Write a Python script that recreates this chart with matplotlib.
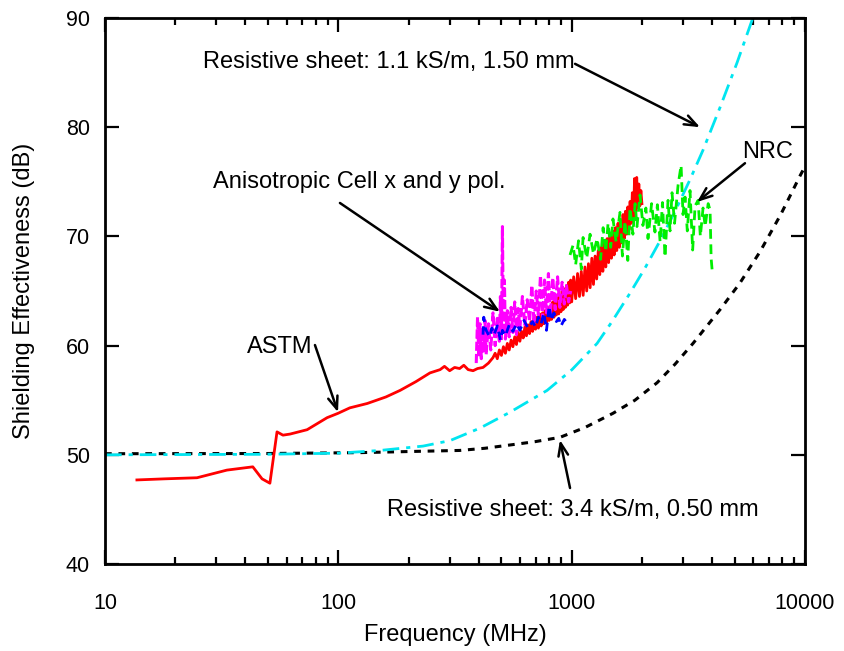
import numpy as np
import matplotlib
matplotlib.use("Agg")
import matplotlib.pyplot as plt
from matplotlib.ticker import FixedLocator, LogLocator, NullFormatter, FuncFormatter

plt.rcParams["font.family"] = ["Liberation Sans", "DejaVu Sans"]

# ASTM measurement (MHz, dB)
astm_freq = [13.7, 18, 24.8, 33.3, 43.0, 47.1, 50.9, 54.6, 57.9, 62.1, 73.5, 89.5,
             99.7, 112, 133, 160, 184, 215, 247, 273, 285, 300, 315, 331, 345,
             360, 378, 395, 417, 440, 460,
             470, 480, 490, 500, 510, 520, 530, 540, 550, 560, 570, 580, 590,
             600, 610, 620, 630, 640, 650, 660, 670, 680, 690, 700, 710, 720,
             730, 740, 750, 760, 770, 780, 790, 800, 810, 820, 830, 840, 850,
             860, 870, 880, 890, 900, 910, 920, 930, 940, 950, 960, 970, 980,
             990, 1000,
             1020, 1040, 1060, 1080, 1100, 1120, 1140, 1160, 1180, 1200, 1220,
             1240, 1260, 1280, 1300, 1320, 1340, 1360, 1380, 1400, 1420, 1440,
             1460, 1480, 1500, 1520, 1540, 1560, 1580, 1600, 1620, 1640, 1660,
             1680, 1700, 1720, 1740, 1760, 1780, 1800, 1820, 1840, 1860, 1880,
             1900, 1920, 1940, 1960, 1980, 2000]
astm_se = [47.7, 47.8, 47.9, 48.6, 48.9, 47.8, 47.4, 52.1, 51.8, 51.9, 52.3, 53.4,
           53.8, 54.3, 54.7, 55.3, 55.9, 56.7, 57.5, 57.8, 58.1, 57.7, 58.0, 57.9,
           58.2, 57.8, 57.7, 57.9, 58.0, 58.4, 58.9,
           59.3, 58.8, 59.6, 59.1, 59.9, 59.3, 60.2, 59.6, 60.5, 59.9, 60.8,
           60.1, 61.2, 60.4, 61.3, 60.7, 61.7, 60.9, 61.9, 61.1, 62.2, 61.3,
           62.5, 61.5, 62.6, 61.6, 62.9, 61.8, 63.0, 62.0, 63.2, 62.1, 63.5,
           62.3, 63.6, 62.4, 64.0, 62.6, 64.1, 62.8, 64.4, 62.9, 64.6, 63.1,
           65.0, 63.3, 65.2, 63.5, 65.5, 63.7, 65.8, 63.9, 66.0, 64.0,
           66.3, 64.3, 66.6, 64.5, 66.8, 64.6, 67.2, 65.0, 67.5, 65.3, 68.0,
           65.6, 68.2, 66.1, 68.7, 66.5, 69.0, 66.8, 69.5, 67.2, 69.8, 67.6,
           70.3, 68.0, 70.5, 68.3, 70.8, 68.7, 71.2, 69.0, 71.5, 69.4, 72.0,
           69.8, 72.3, 70.2, 72.7, 70.6, 73.2, 71.2, 74.0, 71.6, 75.3, 72.0,
           75.4, 72.6, 74.8, 72.8, 74.2, 73.0]

# NRC measurement
nrc_freq = [984, 1014, 1040, 1070, 1100, 1119, 1160, 1199, 1240, 1285, 1330, 1364,
            1400, 1432, 1470, 1503, 1550, 1611, 1650, 1693, 1740, 1778, 1830,
            1870, 1905, 1963, 2020, 2080, 2124, 2200, 2275, 2330, 2393, 2450,
            2512, 2588, 2640, 2692, 2760, 2858, 2944, 3000, 3062, 3130, 3215,
            3300, 3380, 3483, 3560, 3656, 3733, 3846, 3919, 3960, 4000]
nrc_se = [68.3, 69.2, 67.4, 69.6, 67.0, 69.9, 68.0, 70.2, 68.4, 69.8, 67.9, 70.8,
          68.6, 71.2, 69.0, 71.6, 69.5, 72.2, 68.2, 71.4, 67.8, 72.6, 70.2, 73.0,
          70.9, 73.8, 71.0, 72.6, 69.8, 73.0, 70.4, 72.9, 69.5, 73.1, 68.1,
          73.3, 70.5, 74.0, 71.2, 74.7, 76.5, 72.0, 73.6, 70.5, 74.2, 68.75,
          72.8, 73.3, 70.0, 72.6, 70.9, 73.0, 72.4, 68.0, 66.9]

# anisotropic cell, x polarisation
cellx_freq = [417, 420, 428, 435, 445, 455, 465, 480, 495, 505, 520, 540, 560, 580,
              600, 625, 650, 680, 700, 720, 740, 760, 780, 800, 820, 840, 860,
              880, 900, 930, 960]
cellx_se = [61.0, 62.6, 61.5, 61.2, 60.8, 61.6, 61.0, 61.8, 60.5, 61.4, 60.9, 61.9,
            61.3, 62.0, 61.4, 62.3, 61.6, 62.2, 61.7, 62.6, 62.0, 63.0, 61.4,
            63.6, 62.3, 63.0, 62.2, 62.5, 61.8, 62.4, 62.0]

# anisotropic cell, y polarisation
celly_freq = [390, 395, 400, 405, 410, 415, 420, 425, 430, 440, 450, 460, 470, 480,
              490, 495, 500, 505, 510, 515, 520, 530, 540, 550, 560, 570, 580,
              590, 600, 615, 630, 645, 660, 675, 690, 705, 720, 735, 750, 765,
              780, 795, 810, 830, 850, 870, 890, 910, 930, 950, 970, 990]
celly_se = [58.4, 62.6, 59.0, 62.0, 58.8, 61.5, 59.5, 62.3, 59.2, 62.0, 59.6, 63.0,
            60.0, 62.5, 60.4, 64.5, 60.5, 70.9, 61.0, 66.0, 60.6, 63.2, 60.8,
            63.5, 61.2, 64.0, 61.0, 63.4, 61.6, 64.5, 61.9, 64.2, 62.2, 65.5,
            62.0, 65.0, 62.8, 66.4, 62.5, 66.0, 63.0, 66.6, 62.8, 66.2, 63.3,
            66.3, 63.5, 65.8, 63.8, 65.5, 64.0, 65.0]

# resistive sheet, 1.1 kS/m, 1.50 mm
sheet1_freq = [10, 50, 100, 151, 231, 301, 405, 544, 785, 1003, 1285, 1489, 1778,
               2062, 2393, 2774, 3215, 3655, 4322, 5113, 5930, 6416]
sheet1_se = [50.0, 50.05, 50.15, 50.4, 50.8, 51.3, 52.45, 53.9, 55.9, 57.8, 60.2,
             62.2, 64.8, 67.1, 69.6, 72.3, 75.2, 77.9, 81.8, 85.9, 89.8, 92.0]

# resistive sheet, 3.4 kS/m, 0.50 mm
sheet2_freq = [10, 50, 124, 200, 331, 425, 544, 695, 891, 1140, 1503, 1867, 2323,
               2774, 3311, 4325, 5250, 6416, 7870, 9550, 10000]
sheet2_se = [50.1, 50.12, 50.2, 50.3, 50.4, 50.6, 50.9, 51.2, 51.6, 52.5, 53.8,
             55.0, 56.6, 58.3, 60.2, 63.3, 65.7, 68.6, 72.0, 75.6, 76.4]

fig = plt.figure(figsize=(8.44, 6.51), dpi=100)
ax = fig.add_axes([0.1244, 0.1336, 0.8294, 0.8388])

ax.plot(sheet2_freq, sheet2_se, color="black", lw=2.2, ls=(0, (2.2, 2.2)))
ax.plot(sheet1_freq, sheet1_se, color="#00e5f0", lw=2.0, ls=(0, (6, 2.5, 1.5, 2.5)))
ax.plot(astm_freq, astm_se, color="red", lw=2.0)
ax.plot(nrc_freq, nrc_se, color="#00ee00", lw=2.0, ls=(0, (3.5, 2.0)))
ax.plot(celly_freq, celly_se, color="#ff00ff", lw=2.2, ls=(0, (3, 1)))
ax.plot(cellx_freq, cellx_se, color="#0000ff", lw=2.0, ls=(0, (3, 2)))

ax.set_xscale("log")
ax.set_xlim(10, 10000)
ax.set_ylim(40, 90)
ax.xaxis.set_major_locator(FixedLocator([10, 100, 1000, 10000]))
ax.xaxis.set_major_formatter(FuncFormatter(lambda v, p: "%d" % v))
ax.xaxis.set_minor_locator(LogLocator(base=10, subs=np.arange(2, 10)))
ax.xaxis.set_minor_formatter(NullFormatter())
ax.yaxis.set_major_locator(FixedLocator([40, 50, 60, 70, 80, 90]))

ax.tick_params(which="both", direction="in", top=True, right=True, width=1.6)
ax.tick_params(which="major", length=10, labelsize=15.5)
ax.tick_params(axis="x", which="major", pad=21)
ax.tick_params(axis="y", which="major", pad=11)
ax.tick_params(which="minor", length=5)
for s in ax.spines.values():
    s.set_linewidth(2.0)

ax.set_xlabel("Frequency (MHz)", fontsize=17, labelpad=7)
ax.set_ylabel("Shielding Effectiveness (dB)", fontsize=17, labelpad=22)

arrow = dict(arrowstyle="->,head_length=0.9,head_width=0.35", lw=1.8, color="black",
             shrinkA=0, shrinkB=0)
fs = 17
ax.text(26.3, 85.97, "Resistive sheet: 1.1 kS/m, 1.50 mm", fontsize=fs, va="center")
ax.annotate("", xy=(3550, 80.0), xytext=(1034, 85.8), arrowprops=arrow)

ax.text(29.0, 74.98, "Anisotropic Cell x and y pol.", fontsize=fs, va="center")
ax.annotate("", xy=(493, 63.1), xytext=(101.6, 73.06), arrowprops=arrow)

ax.text(5370, 77.7, "NRC", fontsize=fs, va="center")
ax.annotate("", xy=(3444, 73.15), xytext=(5530, 76.7), arrowprops=arrow)

ax.text(40.6, 59.87, "ASTM", fontsize=fs, va="center")
ax.annotate("", xy=(99.7, 53.9), xytext=(79.4, 60.05), arrowprops=arrow)

ax.text(161.8, 44.95, "Resistive sheet: 3.4 kS/m, 0.50 mm", fontsize=fs, va="center")
ax.annotate("", xy=(891, 51.36), xytext=(984, 46.96), arrowprops=arrow)

fig.savefig("out.png", dpi=100)
